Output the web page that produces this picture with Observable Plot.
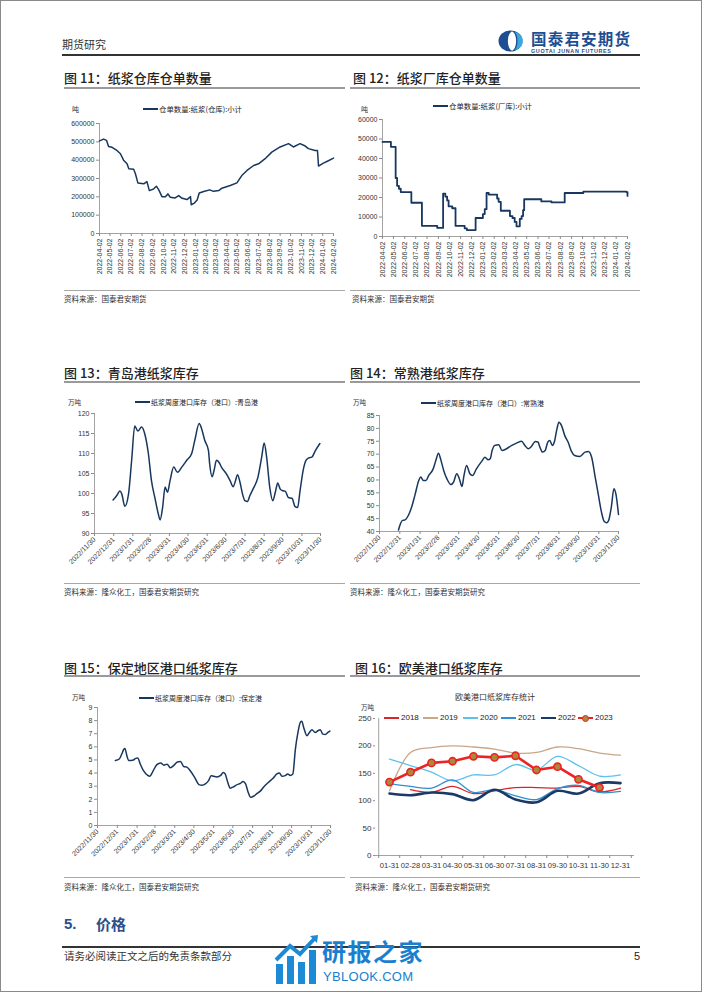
<!DOCTYPE html>
<html><head><meta charset="utf-8">
<script src="https://cdn.jsdelivr.net/npm/d3@7"></script>
<script src="https://cdn.jsdelivr.net/npm/@observablehq/plot@0.6"></script>
<style>
html,body{margin:0;padding:0;background:#fff;}
#page{position:relative;width:700px;height:990px;border:1px solid #8a8a8a;overflow:hidden;font-family:"Noto Sans CJK SC","Noto Sans",sans-serif;color:#222;}
.abs{position:absolute;white-space:nowrap;line-height:1;}
.rule{position:absolute;}
.num{font-family:"Liberation Sans",Arial,sans-serif;}
</style></head>
<body><div id="page"></div>
<script>
// ---------------- DATA ----------------
// 图11 仓单数量:纸浆(仓库):小计 (吨)
const wrDates = ["2022-04-02","2022-04-14","2022-04-22","2022-04-28","2022-05-08","2022-05-22","2022-06-01","2022-06-10","2022-06-20","2022-06-25","2022-07-09","2022-07-14","2022-07-21","2022-08-07","2022-08-16","2022-08-23","2022-09-04","2022-09-12","2022-09-19","2022-09-28","2022-10-08","2022-10-15","2022-10-22","2022-11-05","2022-11-15","2022-11-25","2022-12-09","2022-12-19","2022-12-21","2022-12-30","2023-01-07","2023-01-13","2023-01-26","2023-02-12","2023-02-23","2023-03-10","2023-03-19","2023-04-12","2023-05-01","2023-05-15","2023-05-30","2023-06-18","2023-07-02","2023-07-21","2023-08-09","2023-09-02","2023-09-26","2023-10-10","2023-10-29","2023-11-13","2023-11-22","2023-12-11","2023-12-18","2023-12-21","2024-01-04","2024-01-14","2024-02-02"];
const wrValues = [505000,515000,508000,475000,470000,453000,435000,400000,380000,353000,350000,326000,276000,271000,283000,234000,243000,258000,238000,201000,201000,216000,198000,194000,207000,192000,185000,201000,157000,166000,183000,221000,229000,238000,230000,234000,247000,262000,276000,316000,344000,371000,380000,408000,444000,472000,490000,472000,490000,477000,463000,453000,453000,368000,384000,393000,411000];
// 图12 仓单数量:纸浆(厂库):小计 (吨)
const frDates = ["2022-04-02","2022-04-25","2022-05-08","2022-05-12","2022-05-17","2022-05-22","2022-06-20","2022-07-19","2022-08-30","2022-09-15","2022-09-21","2022-09-26","2022-09-30","2022-10-10","2022-10-19","2022-11-13","2022-11-19","2022-12-13","2023-01-02","2023-01-07","2023-01-12","2023-01-18","2023-02-10","2023-02-14","2023-02-20","2023-03-17","2023-03-24","2023-03-30","2023-04-04","2023-04-13","2023-04-18","2023-04-22","2023-04-25","2023-06-11","2023-07-09","2023-08-14","2023-10-04","2024-01-30","2024-02-02"];
const frValues = [48500,46000,30000,26000,24500,22800,17300,5500,4400,22000,20500,18500,15500,14500,5500,4200,3300,9500,11500,14000,22300,21500,19500,17800,13200,10500,9500,7500,5200,9000,10500,13500,19100,18000,17500,22300,23000,22800,20800];
const monthTicks11 = ["2022-04-02","2022-05-02","2022-06-02","2022-07-02","2022-08-02","2022-09-02","2022-10-02","2022-11-02","2022-12-02","2023-01-02","2023-02-02","2023-03-02","2023-04-02","2023-05-02","2023-06-02","2023-07-02","2023-08-02","2023-09-02","2023-10-02","2023-11-02","2023-12-02","2024-01-02","2024-02-02"];
// 图13 青岛港 (万吨)
const qdDates = ["2022-12-30","2023-01-05","2023-01-10","2023-01-13","2023-01-18","2023-01-24","2023-01-29","2023-02-03","2023-02-08","2023-02-14","2023-02-19","2023-02-25","2023-03-02","2023-03-08","2023-03-13","2023-03-16","2023-03-20","2023-03-24","2023-03-28","2023-04-01","2023-04-07","2023-04-13","2023-04-20","2023-04-28","2023-05-06","2023-05-11","2023-05-18","2023-05-22","2023-05-27","2023-06-02","2023-06-04","2023-06-08","2023-06-11","2023-06-15","2023-06-19","2023-06-23","2023-07-01","2023-07-07","2023-07-12","2023-07-15","2023-07-19","2023-07-23","2023-07-27","2023-07-31","2023-08-04","2023-08-08","2023-08-13","2023-08-21","2023-08-27","2023-08-31","2023-09-04","2023-09-09","2023-09-14","2023-09-18","2023-09-22","2023-09-26","2023-09-30","2023-10-04","2023-10-09","2023-10-15","2023-10-20","2023-10-24","2023-10-28","2023-11-02","2023-11-07","2023-11-11","2023-11-16","2023-11-22","2023-11-29"];
const qdValues = [98.4,99.5,100.6,99.9,96.8,99.9,108.3,116.9,115.6,116.6,115,110,103.2,98.6,94.9,93.4,96.5,101.6,100.3,103.2,106.6,105.3,106.6,108.3,110,113.3,117.5,116.2,113.3,110.8,107.4,104.2,105.7,108.3,107.8,106.6,104.9,103.2,101.7,102.8,104.7,102.8,99.9,98.2,98.0,99.5,101.1,104.1,109.1,112.6,109.1,101.6,98.2,100.3,102.6,101.1,100.7,100.6,99,98.8,96.7,96.5,100.7,105.8,108.4,108.9,109.1,110.8,112.5];
// 图14 常熟港 (万吨)
const csDates = ["2022-12-29","2023-01-01","2023-01-04","2023-01-08","2023-01-13","2023-01-18","2023-01-23","2023-01-29","2023-02-01","2023-02-05","2023-02-09","2023-02-13","2023-02-20","2023-02-24","2023-02-28","2023-03-04","2023-03-08","2023-03-13","2023-03-19","2023-03-23","2023-03-28","2023-04-01","2023-04-05","2023-04-08","2023-04-12","2023-04-17","2023-04-21","2023-04-27","2023-05-05","2023-05-10","2023-05-15","2023-05-18","2023-05-21","2023-05-25","2023-05-31","2023-06-05","2023-06-12","2023-06-20","2023-06-28","2023-07-05","2023-07-10","2023-07-15","2023-07-20","2023-07-26","2023-07-30","2023-08-02","2023-08-06","2023-08-10","2023-08-14","2023-08-17","2023-08-21","2023-08-24","2023-08-28","2023-08-31","2023-09-04","2023-09-09","2023-09-14","2023-09-19","2023-09-24","2023-10-02","2023-10-10","2023-10-15","2023-10-20","2023-10-25","2023-10-30","2023-11-04","2023-11-08","2023-11-12","2023-11-15","2023-11-19","2023-11-23","2023-11-26","2023-11-30"];
const csValues = [40.6,43,44.3,44.5,46.2,49.4,54,59.8,61.1,59.8,59.8,61.7,64.3,67.5,70.4,67.5,63.7,60.4,58.2,59.1,62.4,60.4,57.5,61.7,65.6,62.4,61.7,64.3,67.2,68.8,67.8,68.2,71.4,73.4,73.7,71.4,72.1,73.4,74.4,75,73.4,72.1,73,74.9,74.7,72.7,70.8,71.4,74.7,75.3,73.4,74.7,79.8,82.4,81.1,77.2,74.7,71.2,69.5,69.1,70.8,71,68.8,61.7,54.6,47.5,44,43.4,44.3,49.4,56.6,54.6,46.6];
// 图15 保定港 (万吨)
const bdDates = ["2022-12-28","2023-01-03","2023-01-07","2023-01-10","2023-01-12","2023-01-15","2023-01-18","2023-01-24","2023-01-29","2023-02-01","2023-02-05","2023-02-10","2023-02-16","2023-02-20","2023-02-24","2023-03-03","2023-03-09","2023-03-14","2023-03-19","2023-03-24","2023-03-30","2023-04-04","2023-04-09","2023-04-14","2023-04-19","2023-04-24","2023-05-02","2023-05-08","2023-05-13","2023-05-18","2023-05-23","2023-05-27","2023-05-31","2023-06-05","2023-06-11","2023-06-15","2023-06-18","2023-06-22","2023-06-26","2023-07-01","2023-07-06","2023-07-12","2023-07-16","2023-07-20","2023-07-24","2023-07-28","2023-08-02","2023-08-07","2023-08-12","2023-08-17","2023-08-25","2023-09-01","2023-09-07","2023-09-11","2023-09-15","2023-09-20","2023-09-24","2023-09-28","2023-10-02","2023-10-06","2023-10-10","2023-10-14","2023-10-16","2023-10-19","2023-10-24","2023-10-28","2023-11-01","2023-11-06","2023-11-11","2023-11-14","2023-11-18","2023-11-22","2023-11-26","2023-11-29"];
const bdValues = [4.95,5.07,5.45,5.8,5.88,5.32,4.95,4.97,5.12,5.15,4.69,4.18,3.85,3.75,4.06,4.64,4.77,4.6,4.68,4.4,4.6,4.85,4.88,4.5,4.45,4.2,3.6,3.12,3.07,3.17,3.42,3.8,3.75,3.7,3.82,4.05,3.93,3.3,2.85,2.95,3.1,3.22,3.35,3.17,2.54,2.15,2.25,2.45,2.62,2.92,3.3,3.6,3.93,4.0,3.75,3.8,3.93,3.82,3.93,5.83,7.1,7.9,7.95,7.48,6.85,7.1,7.3,7.1,7.25,7.3,6.97,6.95,7.1,7.2];
const monthTicksPort = ["2022/11/30","2022/12/31","2023/1/31","2023/2/28","2023/3/31","2023/4/30","2023/5/31","2023/6/30","2023/7/31","2023/8/31","2023/9/30","2023/10/31","2023/11/30"];
// 图16 欧美港口纸浆库存统计 (万吨)
const euMonths = ["01-31","02-28","03-31","04-30","05-31","06-30","07-31","08-31","09-30","10-31","11-30","12-31"];
const eu2018 = [null,120,115,126,113,118,124,124,123,126,116,123];
const eu2019 = [118,188,197,200,198,194,187,188,198,195,187,183];
const eu2020 = [176,164,152,136,147,147,166,156,181,164,145,147];
const eu2021 = [131,126,123,138,115,120,109,102,122,128,115,117];
const eu2022 = [113,110,115,112,101,120,102,97,118,113,132,132];
const eu2023 = [134,152,169,172,181,179,182,156,162,139,124,null];
const euYears = ["2018","2019","2020","2021","2022","2023"];

// ---------------- LAYOUT HELPERS ----------------
const page = document.getElementById("page");
function text(x, y, s, size, extra = {}) {
  const d = document.createElement("div");
  d.className = "abs" + (extra.cls ? " " + extra.cls : "");
  d.style.left = (x - 1) + "px";
  d.style.top = (y - 1 - size / 2) + "px";
  d.style.fontSize = size + "px";
  if (extra.color) d.style.color = extra.color;
  if (extra.weight) d.style.fontWeight = extra.weight;
  if (extra.ls) d.style.letterSpacing = extra.ls;
  if (extra.center) { d.style.transform = "translateX(-50%)"; }
  d.innerHTML = s;
  page.appendChild(d);
  return d;
}
function rule(x1, x2, y, h, color) {
  const d = document.createElement("div");
  d.className = "rule";
  d.style.left = (x1 - 1) + "px"; d.style.width = (x2 - x1) + "px";
  d.style.top = (y - 1 - h / 2) + "px"; d.style.height = h + "px";
  d.style.background = color;
  page.appendChild(d);
}
function place(el, left, top) {
  const d = document.createElement("div");
  d.className = "abs";
  d.style.left = (left - 1) + "px"; d.style.top = (top - 1) + "px";
  d.appendChild(el);
  page.appendChild(d);
}
function legendLine(x, y, label, color, w, size) {
  const d = document.createElement("div");
  d.className = "abs";
  d.style.left = (x - 1) + "px"; d.style.top = (y - 1 - 6) + "px";
  d.style.height = "12px"; d.style.display = "flex"; d.style.alignItems = "center";
  d.style.fontSize = size + "px";
  d.innerHTML = `<span style="display:inline-block;width:${w}px;height:2px;background:${color};margin-right:1px"></span><span>${label}</span>`;
  page.appendChild(d);
}

// ---------------- HEADER ----------------
text(62, 44, "期货研究", 11, {color: "#333"});
const logo = document.createElementNS("http://www.w3.org/2000/svg", "svg");
logo.setAttribute("width", "26"); logo.setAttribute("height", "22");
logo.innerHTML = `<ellipse cx="12.5" cy="11" rx="12" ry="10.5" fill="#1d4e92"/>
<path d="M14,1.2 C8.5,4 8.5,18 14,20.8 C19.5,18 19.5,4 14,1.2Z" fill="#fff"/>
<path d="M16.5,2 C20.5,4.5 20.5,17.5 16.5,20 C23,19 25,14 24.6,11 C25,8 23,3 16.5,2Z" fill="#39a8e0"/>`;
place(logo, 498, 30);
text(531, 39, "国泰君安期货", 15.5, {color: "#1d4e92", weight: 700, ls: "1.2px"});
text(531, 51.5, "GUOTAI JUNAN FUTURES", 5.4, {color: "#1d4e92", cls: "num", ls: "0.65px", weight: 700});
rule(62, 640, 55, 1.6, "#333");

// ---------------- TITLES / SOURCE LINES ----------------
const titleOpts = {color: "#222", weight: 500};
text(64, 77, "图 11：纸浆仓库仓单数量", 13, titleOpts);
text(353, 77, "图 12：纸浆厂库仓单数量", 13, titleOpts);
rule(64, 345, 88, 2.4, "#9a9a9a");
rule(350, 640, 88, 2.4, "#9a9a9a");
rule(64, 345, 290, 1, "#a8a8a8");
rule(350, 640, 290, 1, "#a8a8a8");
text(64, 299, "资料来源：国泰君安期货", 7.5, {color: "#333"});
text(352, 299, "资料来源：国泰君安期货", 7.5, {color: "#333"});

text(64, 372, "图 13：青岛港纸浆库存", 13, titleOpts);
text(350, 372, "图 14：常熟港纸浆库存", 13, titleOpts);
rule(64, 345, 382, 2.4, "#9a9a9a");
rule(350, 640, 382, 2.4, "#9a9a9a");
rule(64, 345, 583, 1, "#a8a8a8");
rule(350, 640, 583, 1, "#a8a8a8");
text(64, 592, "资料来源：隆众化工，国泰君安期货研究", 7.5, {color: "#333"});
text(350, 592, "资料来源：隆众化工，国泰君安期货研究", 7.5, {color: "#333"});

text(64, 667, "图 15：保定地区港口纸浆库存", 13, titleOpts);
text(355, 667, "图 16：欧美港口纸浆库存", 13, titleOpts);
rule(64, 345, 676, 2.4, "#9a9a9a");
rule(350, 640, 676, 2.4, "#9a9a9a");
rule(64, 345, 877, 1, "#a8a8a8");
rule(350, 640, 877, 1, "#a8a8a8");
text(64, 887, "资料来源：隆众化工，国泰君安期货研究", 7.5, {color: "#333"});
text(355, 887, "资料来源：隆众化工，国泰君安期货研究", 7.5, {color: "#333"});

// ---------------- FOOTER ----------------
text(64, 923, "5.", 15, {color: "#2c4f8c", weight: 700, cls: "num"});
text(96, 923, "价格", 15, {color: "#2c4f8c", weight: 700});
rule(62, 640, 947, 1.4, "#333");
text(64, 956, "请务必阅读正文之后的免责条款部分", 10.5, {color: "#333"});
text(634, 956, "5", 11, {color: "#222", cls: "num"});
// watermark badge
const wm = document.createElementNS("http://www.w3.org/2000/svg", "svg");
wm.setAttribute("width", "46"); wm.setAttribute("height", "52");
wm.innerHTML = `<rect x="2" y="30" width="7" height="20" fill="#1d8ad6"/><rect x="13" y="22" width="7" height="28" fill="#1d8ad6"/><rect x="24" y="28" width="7" height="22" fill="#1d8ad6"/><rect x="35" y="16" width="7" height="34" fill="#1d8ad6"/><path d="M2,26 L16,12 L26,20 L42,3" stroke="#1d8ad6" stroke-width="4" fill="none"/><path d="M36,2 L44,1 L43,9Z" fill="#1d8ad6"/>`;
place(wm, 274, 934);
text(322, 951, "研报之家", 24, {color: "#1a7fcf", weight: 700, ls: "1.5px"});
text(323, 976.5, "YBLOOK.COM", 13, {color: "#1a7fcf", cls: "num", ls: "0.3px"});

// ---------------- CHARTS ----------------
const navy = "#17375e";
const baseStyle = {fontFamily: "'Liberation Sans', Arial, sans-serif", fontSize: "7px", color: "#333", background: "transparent", overflow: "visible"};
const parse = d3.utcParse("%Y-%m-%d");
const parseSlash = d3.utcParse("%Y/%m/%d");
const zip = (ds, vs, p) => ds.map((d, i) => ({date: p(d), value: vs[i]}));

function timeChart({data, left, top, width, height, m, xDomain, xTicks, xFormat, rotate, yDomain, yTicks, yFormat, curve, sw}) {
  const svg = Plot.plot({
    width, height, marginLeft: m[0], marginRight: m[1], marginTop: m[2], marginBottom: m[3],
    style: baseStyle,
    x: {type: "utc", domain: xDomain},
    y: {domain: yDomain},
    marks: [
      Plot.ruleX([xDomain[0]], {stroke: "#8c8c8c", strokeWidth: 0.8}),
      Plot.ruleY([yDomain[0]], {stroke: "#8c8c8c", strokeWidth: 0.8}),
      Plot.axisY({ticks: yTicks, tickFormat: yFormat, tickSize: 3, tickPadding: 2, label: null, stroke: "#8c8c8c"}),
      Plot.axisX({ticks: xTicks, tickFormat: xFormat, tickRotate: rotate, tickSize: 3, tickPadding: 2, label: null, stroke: "#8c8c8c"}),
      Plot.line(data, {x: "date", y: "value", stroke: navy, strokeWidth: sw, curve})
    ]
  });
  place(svg, left, top);
}

// 图11
timeChart({
  data: zip(wrDates, wrValues, parse), left: 55, top: 115, width: 290, height: 175, m: [44, 12, 8, 57],
  xDomain: [parse(monthTicks11[0]), parse(monthTicks11[monthTicks11.length - 1])],
  xTicks: monthTicks11.map(parse), xFormat: d3.utcFormat("%Y-%m-%d"), rotate: -90,
  yDomain: [0, 600000], yTicks: [0, 100000, 200000, 300000, 400000, 500000, 600000], yFormat: d3.format("d"),
  curve: "linear", sw: 1.5
});
text(72, 109, "吨", 7, {color: "#333"});
legendLine(143, 109, "仓单数量:纸浆(仓库):小计", navy, 15, 7.4);

// 图12
timeChart({
  data: zip(frDates, frValues, parse), left: 350, top: 112, width: 290, height: 178, m: [32, 13, 7, 54],
  xDomain: [parse(monthTicks11[0]), parse(monthTicks11[monthTicks11.length - 1])],
  xTicks: monthTicks11.map(parse), xFormat: d3.utcFormat("%Y-%m-%d"), rotate: -90,
  yDomain: [0, 60000], yTicks: [0, 10000, 20000, 30000, 40000, 50000, 60000], yFormat: d3.format("d"),
  curve: "step-after", sw: 1.8
});
text(361, 109, "吨", 7, {color: "#333"});
legendLine(433, 106, "仓单数量:纸浆(厂库):小计", navy, 15, 7.4);

const portFormat = (d) => `${d.getUTCFullYear()}/${d.getUTCMonth() + 1}/${d.getUTCDate()}`;
const portTicks = monthTicksPort.map(parseSlash);
const portDomain = [portTicks[0], portTicks[portTicks.length - 1]];

// 图13
timeChart({
  data: zip(qdDates, qdValues, parse), left: 55, top: 395, width: 290, height: 188, m: [39, 25, 18, 50],
  xDomain: portDomain, xTicks: portTicks, xFormat: portFormat, rotate: -45,
  yDomain: [90, 120], yTicks: [90, 95, 100, 105, 110, 115, 120], yFormat: d3.format("d"),
  curve: "monotone-x", sw: 1.5
});
text(68, 402, "万吨", 6.5, {color: "#333"});
legendLine(135, 402, "纸浆周度港口库存（港口）:青岛港", navy, 15, 7);

// 图14
timeChart({
  data: zip(csDates, csValues, parse), left: 350, top: 395, width: 290, height: 188, m: [29, 22, 20, 52],
  xDomain: portDomain, xTicks: portTicks, xFormat: portFormat, rotate: -45,
  yDomain: [40, 85], yTicks: [40, 45, 50, 55, 60, 65, 70, 75, 80, 85], yFormat: d3.format("d"),
  curve: "monotone-x", sw: 1.5
});
text(353, 402, "万吨", 6.5, {color: "#333"});
legendLine(421, 403, "纸浆周度港口库存（港口）:常熟港", navy, 15, 7);

// 图15
timeChart({
  data: zip(bdDates, bdValues, parse), left: 55, top: 690, width: 290, height: 188, m: [42, 15, 17, 53],
  xDomain: portDomain, xTicks: portTicks, xFormat: portFormat, rotate: -45,
  yDomain: [0, 9], yTicks: [0, 1, 2, 3, 4, 5, 6, 7, 8, 9], yFormat: d3.format("d"),
  curve: "monotone-x", sw: 1.5
});
text(72, 697, "万吨", 6.5, {color: "#333"});
legendLine(139, 698, "纸浆周度港口库存（港口）:保定港", navy, 15, 7);

// 图16
const euSeries = [eu2018, eu2019, eu2020, eu2021, eu2022, eu2023];
const euColors = ["#d9262a", "#c9a68a", "#5bc2ee", "#2f8fd0", "#1a3967", "#ee2222"];
const euWidths = [1.3, 1.3, 1.3, 1.3, 2.6, 2.6];
const euRows = [];
euSeries.forEach((vals, k) => vals.forEach((v, i) => { if (v != null) euRows.push({year: euYears[k], month: euMonths[i], value: v}); }));
const eu16 = {w: 290, h: 178, ml: 25, mr: 6, mt: 18, mb: 23};
const step16 = (eu16.w - eu16.ml - eu16.mr) / euMonths.length;
const euMarks = [
  Plot.ruleX([euMonths[0]], {stroke: "#8c8c8c", strokeWidth: 0.8, dx: -step16 / 2}),
  Plot.ruleY([0], {stroke: "#8c8c8c", strokeWidth: 0.8}),
  Plot.axisY({ticks: [0, 50, 100, 150, 200, 250], tickSize: 2, tickPadding: 2, label: null, stroke: "#8c8c8c", fontSize: 8}),
  Plot.axisX({tickSize: 0, tickPadding: 7, label: null, fontSize: 7.6}),
  Plot.axisX({tickSize: 3, tickFormat: () => "", label: null, dx: -step16 / 2, stroke: "#8c8c8c"}),
  Plot.axisX({ticks: [euMonths[euMonths.length - 1]], tickSize: 3, tickFormat: () => "", label: null, dx: step16 / 2, stroke: "#8c8c8c"})
];
euYears.forEach((y, k) => {
  euMarks.push(Plot.line(euRows.filter(r => r.year === y), {x: "month", y: "value", stroke: euColors[k], strokeWidth: euWidths[k], curve: y === "2023" ? "linear" : "catmull-rom"}));
});
euMarks.push(Plot.dot(euRows.filter(r => r.year === "2023"), {x: "month", y: "value", r: 3.6, fill: "#a88a3a", stroke: "#ee2222", strokeWidth: 1.6}));
const svg16 = Plot.plot({
  width: eu16.w, height: eu16.h, marginLeft: eu16.ml, marginRight: eu16.mr, marginTop: eu16.mt, marginBottom: eu16.mb,
  style: {...baseStyle, fontSize: "8px"},
  x: {type: "point", domain: euMonths, padding: 0.5},
  y: {domain: [0, 250]},
  marks: euMarks
});
place(svg16, 350, 700);
text(495, 697, "欧美港口纸浆库存统计", 8, {color: "#333", center: true});
text(361, 707, "万吨", 6.5, {color: "#333"});
// legend 16
const legX = [384, 423, 463, 501, 541, 578];
euYears.forEach((y, k) => {
  const d = document.createElement("div");
  d.className = "abs num";
  d.style.left = (legX[k] - 1) + "px"; d.style.top = (718 - 1 - 6) + "px";
  d.style.height = "12px"; d.style.display = "flex"; d.style.alignItems = "center"; d.style.fontSize = "8px";
  const lw = euWidths[k] > 2 ? 2.6 : 1.4;
  const marker = y === "2023" ? `<span style="position:absolute;left:4px;top:2.5px;width:5px;height:5px;border-radius:50%;background:#a88a3a;border:1.5px solid #ee2222"></span>` : "";
  d.innerHTML = `<span style="position:relative;display:inline-block;width:15px;height:12px;margin-right:2px"><span style="position:absolute;left:0;top:${6 - lw / 2}px;width:15px;height:${lw}px;background:${euColors[k]}"></span>${marker}</span><span>${y}</span>`;
  page.appendChild(d);
});
</script>
</body></html>
